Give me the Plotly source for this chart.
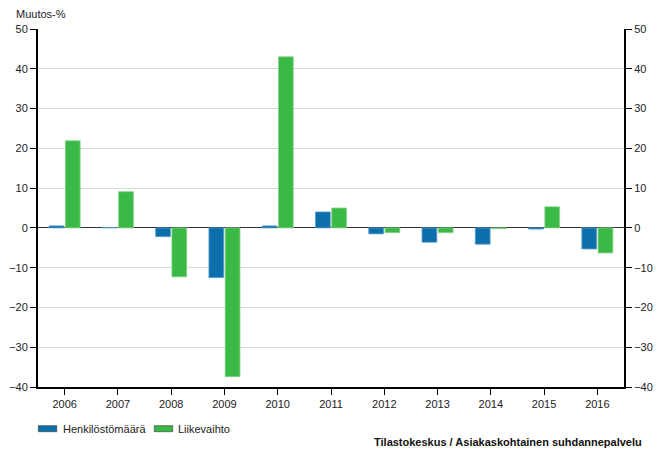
import plotly.graph_objects as go

years = ["2006", "2007", "2008", "2009", "2010", "2011", "2012", "2013", "2014", "2015", "2016"]
henkilosto = [0.5, 0.1, -2.2, -12.5, 0.5, 4.0, -1.5, -3.6, -4.1, -0.3, -5.3]
liikevaihto = [21.9, 9.1, -12.3, -37.4, 43.0, 5.0, -1.2, -1.2, -0.2, 5.3, -6.3]
y_ticks = [-40, -30, -20, -10, 0, 10, 20, 30, 40, 50]

blue = "#0a6fab"
green = "#3ab946"
font_family = "Liberation Sans, Arial, sans-serif"

fig = go.Figure()
fig.add_trace(go.Bar(x=years, y=henkilosto, name="Henkilöstömäärä",
                     marker=dict(color=blue, line=dict(color="#5a9ccc", width=0.8)),
                     showlegend=False))
fig.add_trace(go.Bar(x=years, y=liikevaihto, name="Liikevaihto",
                     marker=dict(color=green, line=dict(color="#86d28c", width=0.8)),
                     showlegend=False))
# invisible trace to show right axis
fig.add_trace(go.Scatter(x=years, y=[None] * len(years), yaxis="y2",
                         showlegend=False, hoverinfo="skip"))

axis_font = dict(family=font_family, size=11, color="#222222")

fig.update_layout(
    width=664, height=449,
    margin=dict(l=38, r=40, t=29, b=62, autoexpand=False),
    paper_bgcolor="white", plot_bgcolor="white",
    barmode="group", bargap=0.39, bargroupgap=0.09,
    font=dict(family=font_family, size=11, color="#222222"),
    xaxis=dict(type="category", range=[-0.5, 10.5], showline=True, linecolor="black",
               linewidth=2, ticks="outside", ticklen=6, tickcolor="black", tickwidth=1,
               showgrid=False, tickfont=axis_font, fixedrange=True),
    yaxis=dict(range=[-40, 50], tickvals=y_ticks, showline=True, linecolor="black",
               linewidth=2, ticks="outside", ticklen=6, tickcolor="black", tickwidth=1,
               showgrid=True, gridcolor="#d9d9d9", gridwidth=1,
               zeroline=True, zerolinecolor="#333333", zerolinewidth=1,
               tickfont=axis_font),
    yaxis2=dict(range=[-40, 50], tickvals=y_ticks, overlaying="y", side="right",
                showline=True, linecolor="black", linewidth=2, ticks="outside",
                ticklen=6, tickcolor="black", tickwidth=1, showgrid=False,
                zeroline=False, tickfont=axis_font),
    showlegend=False,
)

pw, ph = 586, 358
def px_x(x):
    return (x - 38) / pw
def px_y(y):
    return (387 - y) / ph

# Axis title
fig.add_annotation(text="Muutos-%", xref="paper", yref="paper", x=px_x(14),
                   y=px_y(14), xanchor="left", yanchor="middle", showarrow=False,
                   font=dict(family=font_family, size=11, color="#222222"))

# Manual legend
for x0, x1, col, label, tx in [(38.3, 56.7, blue, "Henkilöstömäärä", 61.0),
                                (154.3, 172.7, green, "Liikevaihto", 176.0)]:
    fig.add_shape(type="rect", xref="paper", yref="paper",
                  x0=px_x(x0), x1=px_x(x1), y0=px_y(431.7), y1=px_y(425.7),
                  fillcolor=col, line=dict(color="#333333", width=0.6))
    fig.add_annotation(text=label, xref="paper", yref="paper", x=px_x(tx), y=px_y(429),
                       xanchor="left", yanchor="middle", showarrow=False,
                       font=dict(family=font_family, size=11, color="#222222"))

fig.add_annotation(text="<b>Tilastokeskus / Asiakaskohtainen suhdannepalvelu</b>",
                   xref="paper", yref="paper", x=px_x(644), y=px_y(441.5),
                   xanchor="right", yanchor="middle", showarrow=False,
                   font=dict(family=font_family, size=11, color="#111111"))

fig.write_html("out.html", config={"displayModeBar": False},
               post_script="document.body.style.margin='0';document.body.style.overflow='hidden';")
